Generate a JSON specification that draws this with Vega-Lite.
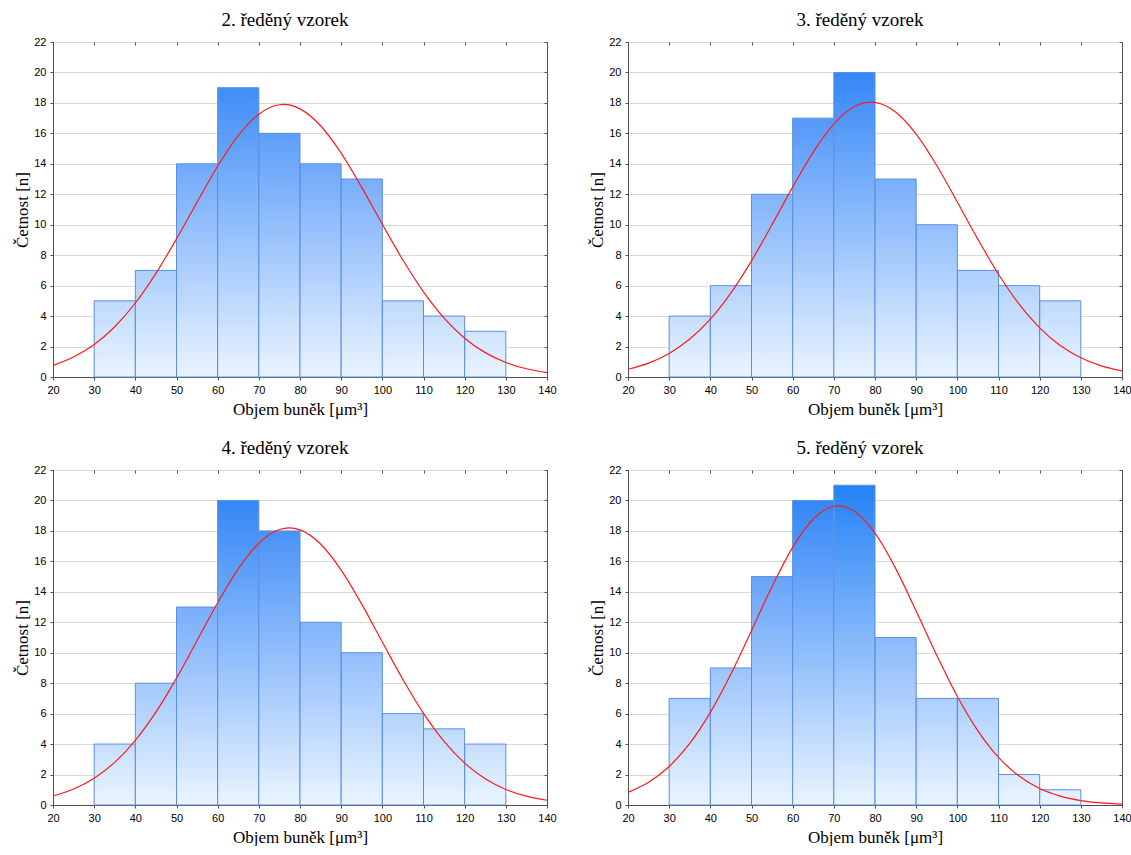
{
  "$schema": "https://vega.github.io/schema/vega-lite/v6.json",
  "background": "white",
  "padding": {"left": 13, "top": 10, "right": 0, "bottom": 0},
  "datasets": {
    "bars": [
      {"p": 2, "x0": 30, "x1": 40, "n": 5}, {"p": 2, "x0": 40, "x1": 50, "n": 7}, {"p": 2, "x0": 50, "x1": 60, "n": 14}, {"p": 2, "x0": 60, "x1": 70, "n": 19}, {"p": 2, "x0": 70, "x1": 80, "n": 16},
      {"p": 2, "x0": 80, "x1": 90, "n": 14}, {"p": 2, "x0": 90, "x1": 100, "n": 13}, {"p": 2, "x0": 100, "x1": 110, "n": 5}, {"p": 2, "x0": 110, "x1": 120, "n": 4}, {"p": 2, "x0": 120, "x1": 130, "n": 3},
      {"p": 3, "x0": 30, "x1": 40, "n": 4}, {"p": 3, "x0": 40, "x1": 50, "n": 6}, {"p": 3, "x0": 50, "x1": 60, "n": 12}, {"p": 3, "x0": 60, "x1": 70, "n": 17}, {"p": 3, "x0": 70, "x1": 80, "n": 20},
      {"p": 3, "x0": 80, "x1": 90, "n": 13}, {"p": 3, "x0": 90, "x1": 100, "n": 10}, {"p": 3, "x0": 100, "x1": 110, "n": 7}, {"p": 3, "x0": 110, "x1": 120, "n": 6}, {"p": 3, "x0": 120, "x1": 130, "n": 5},
      {"p": 4, "x0": 30, "x1": 40, "n": 4}, {"p": 4, "x0": 40, "x1": 50, "n": 8}, {"p": 4, "x0": 50, "x1": 60, "n": 13}, {"p": 4, "x0": 60, "x1": 70, "n": 20}, {"p": 4, "x0": 70, "x1": 80, "n": 18},
      {"p": 4, "x0": 80, "x1": 90, "n": 12}, {"p": 4, "x0": 90, "x1": 100, "n": 10}, {"p": 4, "x0": 100, "x1": 110, "n": 6}, {"p": 4, "x0": 110, "x1": 120, "n": 5}, {"p": 4, "x0": 120, "x1": 130, "n": 4},
      {"p": 5, "x0": 30, "x1": 40, "n": 7}, {"p": 5, "x0": 40, "x1": 50, "n": 9}, {"p": 5, "x0": 50, "x1": 60, "n": 15}, {"p": 5, "x0": 60, "x1": 70, "n": 20}, {"p": 5, "x0": 70, "x1": 80, "n": 21},
      {"p": 5, "x0": 80, "x1": 90, "n": 11}, {"p": 5, "x0": 90, "x1": 100, "n": 7}, {"p": 5, "x0": 100, "x1": 110, "n": 7}, {"p": 5, "x0": 110, "x1": 120, "n": 2}, {"p": 5, "x0": 120, "x1": 130, "n": 1}
    ],
    "curve": [
      {"p": 2, "x": 20, "y": 0.76}, {"p": 2, "x": 25, "y": 1.31}, {"p": 2, "x": 30, "y": 2.13}, {"p": 2, "x": 35, "y": 3.3}, {"p": 2, "x": 40, "y": 4.86}, {"p": 2, "x": 45, "y": 6.81}, {"p": 2, "x": 50, "y": 9.07}, {"p": 2, "x": 55, "y": 11.48}, {"p": 2, "x": 60, "y": 13.84}, {"p": 2, "x": 65, "y": 15.85}, {"p": 2, "x": 70, "y": 17.26}, {"p": 2, "x": 75, "y": 17.88}, {"p": 2, "x": 76, "y": 17.9}, {"p": 2, "x": 80, "y": 17.61}, {"p": 2, "x": 85, "y": 16.5}, {"p": 2, "x": 90, "y": 14.7}, {"p": 2, "x": 95, "y": 12.45}, {"p": 2, "x": 100, "y": 10.03}, {"p": 2, "x": 105, "y": 7.68}, {"p": 2, "x": 110, "y": 5.59}, {"p": 2, "x": 115, "y": 3.87}, {"p": 2, "x": 120, "y": 2.55}, {"p": 2, "x": 125, "y": 1.6}, {"p": 2, "x": 130, "y": 0.95}, {"p": 2, "x": 135, "y": 0.54}, {"p": 2, "x": 140, "y": 0.29},
      {"p": 3, "x": 20, "y": 0.51}, {"p": 3, "x": 25, "y": 0.91}, {"p": 3, "x": 30, "y": 1.55}, {"p": 3, "x": 35, "y": 2.49}, {"p": 3, "x": 40, "y": 3.8}, {"p": 3, "x": 45, "y": 5.53}, {"p": 3, "x": 50, "y": 7.63}, {"p": 3, "x": 55, "y": 10.01}, {"p": 3, "x": 60, "y": 12.47}, {"p": 3, "x": 65, "y": 14.77}, {"p": 3, "x": 70, "y": 16.61}, {"p": 3, "x": 75, "y": 17.76}, {"p": 3, "x": 79, "y": 18.05}, {"p": 3, "x": 80, "y": 18.03}, {"p": 3, "x": 85, "y": 17.4}, {"p": 3, "x": 90, "y": 15.95}, {"p": 3, "x": 95, "y": 13.89}, {"p": 3, "x": 100, "y": 11.49}, {"p": 3, "x": 105, "y": 9.04}, {"p": 3, "x": 110, "y": 6.75}, {"p": 3, "x": 115, "y": 4.79}, {"p": 3, "x": 120, "y": 3.23}, {"p": 3, "x": 125, "y": 2.07}, {"p": 3, "x": 130, "y": 1.26}, {"p": 3, "x": 135, "y": 0.73}, {"p": 3, "x": 140, "y": 0.4},
      {"p": 4, "x": 20, "y": 0.59}, {"p": 4, "x": 25, "y": 1.05}, {"p": 4, "x": 30, "y": 1.76}, {"p": 4, "x": 35, "y": 2.8}, {"p": 4, "x": 40, "y": 4.25}, {"p": 4, "x": 45, "y": 6.1}, {"p": 4, "x": 50, "y": 8.33}, {"p": 4, "x": 55, "y": 10.8}, {"p": 4, "x": 60, "y": 13.28}, {"p": 4, "x": 65, "y": 15.51}, {"p": 4, "x": 70, "y": 17.19}, {"p": 4, "x": 75, "y": 18.09}, {"p": 4, "x": 77.4, "y": 18.2}, {"p": 4, "x": 80, "y": 18.07}, {"p": 4, "x": 85, "y": 17.14}, {"p": 4, "x": 90, "y": 15.43}, {"p": 4, "x": 95, "y": 13.19}, {"p": 4, "x": 100, "y": 10.7}, {"p": 4, "x": 105, "y": 8.24}, {"p": 4, "x": 110, "y": 6.02}, {"p": 4, "x": 115, "y": 4.18}, {"p": 4, "x": 120, "y": 2.75}, {"p": 4, "x": 125, "y": 1.72}, {"p": 4, "x": 130, "y": 1.02}, {"p": 4, "x": 135, "y": 0.58}, {"p": 4, "x": 140, "y": 0.31},
      {"p": 5, "x": 20, "y": 0.83}, {"p": 5, "x": 25, "y": 1.49}, {"p": 5, "x": 30, "y": 2.53}, {"p": 5, "x": 35, "y": 4.04}, {"p": 5, "x": 40, "y": 6.08}, {"p": 5, "x": 45, "y": 8.6}, {"p": 5, "x": 50, "y": 11.45}, {"p": 5, "x": 55, "y": 14.35}, {"p": 5, "x": 60, "y": 16.92}, {"p": 5, "x": 65, "y": 18.78}, {"p": 5, "x": 70, "y": 19.62}, {"p": 5, "x": 71.1, "y": 19.65}, {"p": 5, "x": 75, "y": 19.29}, {"p": 5, "x": 80, "y": 17.85}, {"p": 5, "x": 85, "y": 15.54}, {"p": 5, "x": 90, "y": 12.74}, {"p": 5, "x": 95, "y": 9.83}, {"p": 5, "x": 100, "y": 7.13}, {"p": 5, "x": 105, "y": 4.87}, {"p": 5, "x": 110, "y": 3.13}, {"p": 5, "x": 115, "y": 1.9}, {"p": 5, "x": 120, "y": 1.08}, {"p": 5, "x": 125, "y": 0.58}, {"p": 5, "x": 130, "y": 0.29}, {"p": 5, "x": 135, "y": 0.14}, {"p": 5, "x": 140, "y": 0.06}
    ]
  },
  "columns": 2,
  "spacing": {"row": 20, "column": 31},
  "concat": [
    {
      "title": "2. ředěný vzorek",
      "width": 494, "height": 335,
      "resolve": {"axis": {"x": "independent", "y": "independent"}},
      "layer": [
        {"data": {"name": "bars"}, "transform": [{"filter": "datum.p == 2"}], "mark": {"type": "bar"},
         "encoding": {
           "x": {"field": "x0", "type": "quantitative", "scale": {"domain": [20, 140], "nice": false, "zero": false}, "axis": {"orient": "bottom", "values": [20, 30, 40, 50, 60, 70, 80, 90, 100, 110, 120, 130, 140], "title": "Objem buněk [μm³]", "grid": false, "labelFlush": false}},
           "x2": {"field": "x1"},
           "y": {"field": "n", "type": "quantitative", "scale": {"domain": [0, 22], "nice": false}, "axis": {"orient": "left", "values": [0, 2, 4, 6, 8, 10, 12, 14, 16, 18, 20, 22], "title": "Četnost [n]", "grid": true, "titlePadding": 2}},
           "y2": {"datum": 0},
           "color": {"field": "n", "type": "quantitative", "scale": {"domain": [0, 22], "range": ["#eaf4ff", "#0a7cf5"]}, "legend": null}
         }},
        {"data": {"name": "bars"}, "transform": [{"filter": "datum.p == 2"}],
         "mark": {"type": "bar", "stroke": "#5b8ee2", "strokeWidth": 1, "fill": {"gradient": "linear", "x1": 0, "y1": 0, "x2": 0, "y2": 1, "stops": [{"offset": 0, "color": "rgba(234,244,255,0)"}, {"offset": 1, "color": "rgba(234,244,255,1)"}]}},
         "encoding": {"x": {"field": "x0", "type": "quantitative", "axis": null}, "x2": {"field": "x1"}, "y": {"field": "n", "type": "quantitative", "axis": null}, "y2": {"datum": 0}}},
        {"data": {"name": "curve"}, "transform": [{"filter": "datum.p == 2"}],
         "mark": {"type": "line", "color": "#ff1a1a", "strokeWidth": 1.2, "interpolate": "monotone"},
         "encoding": {
           "x": {"field": "x", "type": "quantitative", "axis": {"orient": "top", "values": [20, 30, 40, 50, 60, 70, 80, 90, 100, 110, 120, 130, 140], "labels": false, "title": null, "grid": false, "domain": false, "tickSize": -3, "minExtent": 0}},
           "y": {"field": "y", "type": "quantitative", "axis": {"orient": "right", "values": [0, 2, 4, 6, 8, 10, 12, 14, 16, 18, 20, 22], "labels": false, "title": null, "grid": false, "domain": false, "tickSize": -3, "minExtent": 0}}
         }}
      ]
    },
    {
      "title": "3. ředěný vzorek",
      "width": 494, "height": 335,
      "resolve": {"axis": {"x": "independent", "y": "independent"}},
      "layer": [
        {"data": {"name": "bars"}, "transform": [{"filter": "datum.p == 3"}], "mark": {"type": "bar"},
         "encoding": {
           "x": {"field": "x0", "type": "quantitative", "scale": {"domain": [20, 140], "nice": false, "zero": false}, "axis": {"orient": "bottom", "values": [20, 30, 40, 50, 60, 70, 80, 90, 100, 110, 120, 130, 140], "title": "Objem buněk [μm³]", "grid": false, "labelFlush": false}},
           "x2": {"field": "x1"},
           "y": {"field": "n", "type": "quantitative", "scale": {"domain": [0, 22], "nice": false}, "axis": {"orient": "left", "values": [0, 2, 4, 6, 8, 10, 12, 14, 16, 18, 20, 22], "title": "Četnost [n]", "grid": true, "titlePadding": 2}},
           "y2": {"datum": 0},
           "color": {"field": "n", "type": "quantitative", "scale": {"domain": [0, 22], "range": ["#eaf4ff", "#0a7cf5"]}, "legend": null}
         }},
        {"data": {"name": "bars"}, "transform": [{"filter": "datum.p == 3"}],
         "mark": {"type": "bar", "stroke": "#5b8ee2", "strokeWidth": 1, "fill": {"gradient": "linear", "x1": 0, "y1": 0, "x2": 0, "y2": 1, "stops": [{"offset": 0, "color": "rgba(234,244,255,0)"}, {"offset": 1, "color": "rgba(234,244,255,1)"}]}},
         "encoding": {"x": {"field": "x0", "type": "quantitative", "axis": null}, "x2": {"field": "x1"}, "y": {"field": "n", "type": "quantitative", "axis": null}, "y2": {"datum": 0}}},
        {"data": {"name": "curve"}, "transform": [{"filter": "datum.p == 3"}],
         "mark": {"type": "line", "color": "#ff1a1a", "strokeWidth": 1.2, "interpolate": "monotone"},
         "encoding": {
           "x": {"field": "x", "type": "quantitative", "axis": {"orient": "top", "values": [20, 30, 40, 50, 60, 70, 80, 90, 100, 110, 120, 130, 140], "labels": false, "title": null, "grid": false, "domain": false, "tickSize": -3, "minExtent": 0}},
           "y": {"field": "y", "type": "quantitative", "axis": {"orient": "right", "values": [0, 2, 4, 6, 8, 10, 12, 14, 16, 18, 20, 22], "labels": false, "title": null, "grid": false, "domain": false, "tickSize": -3, "minExtent": 0}}
         }}
      ]
    },
    {
      "title": "4. ředěný vzorek",
      "width": 494, "height": 335,
      "resolve": {"axis": {"x": "independent", "y": "independent"}},
      "layer": [
        {"data": {"name": "bars"}, "transform": [{"filter": "datum.p == 4"}], "mark": {"type": "bar"},
         "encoding": {
           "x": {"field": "x0", "type": "quantitative", "scale": {"domain": [20, 140], "nice": false, "zero": false}, "axis": {"orient": "bottom", "values": [20, 30, 40, 50, 60, 70, 80, 90, 100, 110, 120, 130, 140], "title": "Objem buněk [μm³]", "grid": false, "labelFlush": false}},
           "x2": {"field": "x1"},
           "y": {"field": "n", "type": "quantitative", "scale": {"domain": [0, 22], "nice": false}, "axis": {"orient": "left", "values": [0, 2, 4, 6, 8, 10, 12, 14, 16, 18, 20, 22], "title": "Četnost [n]", "grid": true, "titlePadding": 2}},
           "y2": {"datum": 0},
           "color": {"field": "n", "type": "quantitative", "scale": {"domain": [0, 22], "range": ["#eaf4ff", "#0a7cf5"]}, "legend": null}
         }},
        {"data": {"name": "bars"}, "transform": [{"filter": "datum.p == 4"}],
         "mark": {"type": "bar", "stroke": "#5b8ee2", "strokeWidth": 1, "fill": {"gradient": "linear", "x1": 0, "y1": 0, "x2": 0, "y2": 1, "stops": [{"offset": 0, "color": "rgba(234,244,255,0)"}, {"offset": 1, "color": "rgba(234,244,255,1)"}]}},
         "encoding": {"x": {"field": "x0", "type": "quantitative", "axis": null}, "x2": {"field": "x1"}, "y": {"field": "n", "type": "quantitative", "axis": null}, "y2": {"datum": 0}}},
        {"data": {"name": "curve"}, "transform": [{"filter": "datum.p == 4"}],
         "mark": {"type": "line", "color": "#ff1a1a", "strokeWidth": 1.2, "interpolate": "monotone"},
         "encoding": {
           "x": {"field": "x", "type": "quantitative", "axis": {"orient": "top", "values": [20, 30, 40, 50, 60, 70, 80, 90, 100, 110, 120, 130, 140], "labels": false, "title": null, "grid": false, "domain": false, "tickSize": -3, "minExtent": 0}},
           "y": {"field": "y", "type": "quantitative", "axis": {"orient": "right", "values": [0, 2, 4, 6, 8, 10, 12, 14, 16, 18, 20, 22], "labels": false, "title": null, "grid": false, "domain": false, "tickSize": -3, "minExtent": 0}}
         }}
      ]
    },
    {
      "title": "5. ředěný vzorek",
      "width": 494, "height": 335,
      "resolve": {"axis": {"x": "independent", "y": "independent"}},
      "layer": [
        {"data": {"name": "bars"}, "transform": [{"filter": "datum.p == 5"}], "mark": {"type": "bar"},
         "encoding": {
           "x": {"field": "x0", "type": "quantitative", "scale": {"domain": [20, 140], "nice": false, "zero": false}, "axis": {"orient": "bottom", "values": [20, 30, 40, 50, 60, 70, 80, 90, 100, 110, 120, 130, 140], "title": "Objem buněk [μm³]", "grid": false, "labelFlush": false}},
           "x2": {"field": "x1"},
           "y": {"field": "n", "type": "quantitative", "scale": {"domain": [0, 22], "nice": false}, "axis": {"orient": "left", "values": [0, 2, 4, 6, 8, 10, 12, 14, 16, 18, 20, 22], "title": "Četnost [n]", "grid": true, "titlePadding": 2}},
           "y2": {"datum": 0},
           "color": {"field": "n", "type": "quantitative", "scale": {"domain": [0, 22], "range": ["#eaf4ff", "#0a7cf5"]}, "legend": null}
         }},
        {"data": {"name": "bars"}, "transform": [{"filter": "datum.p == 5"}],
         "mark": {"type": "bar", "stroke": "#5b8ee2", "strokeWidth": 1, "fill": {"gradient": "linear", "x1": 0, "y1": 0, "x2": 0, "y2": 1, "stops": [{"offset": 0, "color": "rgba(234,244,255,0)"}, {"offset": 1, "color": "rgba(234,244,255,1)"}]}},
         "encoding": {"x": {"field": "x0", "type": "quantitative", "axis": null}, "x2": {"field": "x1"}, "y": {"field": "n", "type": "quantitative", "axis": null}, "y2": {"datum": 0}}},
        {"data": {"name": "curve"}, "transform": [{"filter": "datum.p == 5"}],
         "mark": {"type": "line", "color": "#ff1a1a", "strokeWidth": 1.2, "interpolate": "monotone"},
         "encoding": {
           "x": {"field": "x", "type": "quantitative", "axis": {"orient": "top", "values": [20, 30, 40, 50, 60, 70, 80, 90, 100, 110, 120, 130, 140], "labels": false, "title": null, "grid": false, "domain": false, "tickSize": -3, "minExtent": 0}},
           "y": {"field": "y", "type": "quantitative", "axis": {"orient": "right", "values": [0, 2, 4, 6, 8, 10, 12, 14, 16, 18, 20, 22], "labels": false, "title": null, "grid": false, "domain": false, "tickSize": -3, "minExtent": 0}}
         }}
      ]
    }
  ],
  "config": {
    "view": {"stroke": "#505050", "strokeWidth": 1},
    "axis": {
      "domainColor": "#505050", "tickColor": "#505050", "tickSize": 3,
      "labelFont": "Liberation Sans", "labelFontSize": 11, "labelColor": "#000000", "labelPadding": 4,
      "titleFont": "Liberation Serif", "titleFontSize": 17, "titleFontWeight": "normal", "titleColor": "#000000", "titlePadding": 6,
      "gridColor": "#dadada", "gridWidth": 1
    },
    "title": {"font": "Liberation Serif", "fontSize": 19, "fontWeight": "normal", "color": "#000000", "offset": 6, "frame": "bounds", "anchor": "middle"}
  }
}
